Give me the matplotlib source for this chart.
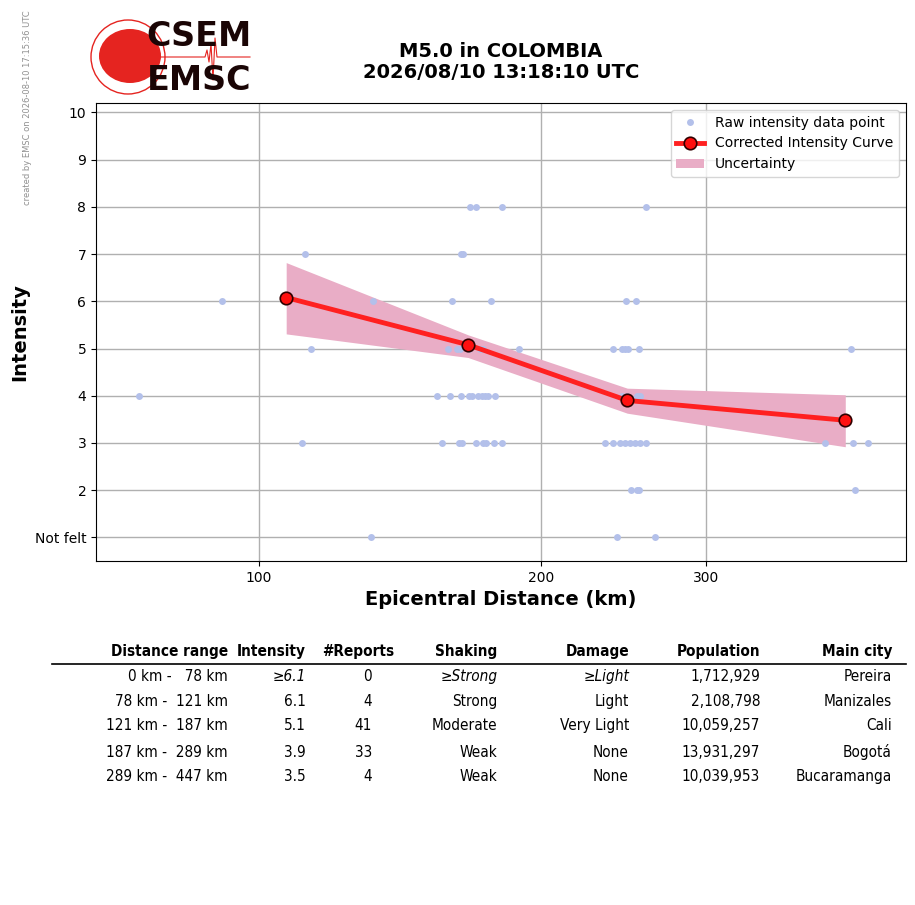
import numpy as np
import matplotlib
matplotlib.use("Agg")
from matplotlib import pyplot as plt
from matplotlib.patches import Circle, Ellipse
from matplotlib.lines import Line2D
from matplotlib.patches import Patch

# raw intensity reports (distance km per intensity level)
raw = {
    8: [168.0, 170.6, 181.8, 258.4],
    7: [112.0, 164.3, 165.2],
    6: [91.2, 132.4, 160.8, 176.6, 246.6, 252.7],
    5: [113.6, 159.2, 162.6, 163.9, 167.3, 172.1, 173.3, 189.6, 238.8, 243.8,
        245.8, 247.8, 254.0, 427.6],
    4: [74.5, 154.8, 159.9, 164.3, 167.3, 168.7, 171.4, 172.9, 174.3, 175.7,
        178.6, 243.8, 246.8, 253.0, 255.0],
    3: [111.0, 156.9, 163.5, 164.6, 170.3, 173.5, 174.7, 178.3, 181.6, 234.0,
        238.8, 242.8, 245.8, 248.9, 251.9, 255.0, 258.4, 401.9, 429.8, 445.9],
    2: [249.5, 253.0, 254.6, 431.9],
    1: [131.8, 241.2, 264.8],
}

curve_dist = [106.9, 167.1, 247.1, 422.1]
curve_int = [6.08, 5.08, 3.90, 3.48]
curve_upper = [6.82, 5.29, 4.16, 4.02]
curve_lower = [5.31, 4.81, 3.63, 2.92]

ytick_vals = [1, 2, 3, 4, 5, 6, 7, 8, 9, 10]
ytick_labels = ["Not felt", "2", "3", "4", "5", "6", "7", "8", "9", "10"]
xtick_vals = [100, 200, 300]

table_header = ["Distance range", "Intensity", "#Reports", "Shaking",
                "Damage", "Population", "Main city"]
dist_range = ["0 km -   78 km", "78 km -  121 km", "121 km -  187 km",
              "187 km -  289 km", "289 km -  447 km"]
intensity = ["\u22656.1", "6.1", "5.1", "3.9", "3.5"]
reports = ["0", "4", "41", "33", "4"]
shaking = ["\u2265Strong", "Strong", "Moderate", "Weak", "Weak"]
damage = ["\u2265Light", "Light", "Very Light", "None", "None"]
population = ["1,712,929", "2,108,798", "10,059,257", "13,931,297", "10,039,953"]
main_city = ["Pereira", "Manizales", "Cali", "Bogotá", "Bucaramanga"]

W, H = 915, 905
fig = plt.figure(figsize=(W / 100, H / 100), dpi=100)

# overlay in pixel coords for logo / table
bg = fig.add_axes([0, 0, 1, 1])
bg.set_xlim(0, W)
bg.set_ylim(H, 0)
bg.axis("off")

ax = fig.add_axes([96 / W, 1 - 561 / H, (906 - 96) / W, (561 - 103) / H])

raw_x = [d for lvl in raw for d in raw[lvl]]
raw_y = [lvl for lvl in raw for d in raw[lvl]]
ax.plot(raw_x, raw_y, "o", color="#b3c0ea", ms=5, mec="none", zorder=3,
        label="Raw intensity data point")
ax.fill_between(curve_dist, curve_lower, curve_upper, color="#e9adc6",
                lw=0, zorder=2, label="Uncertainty")
ax.plot(curve_dist, curve_int, "-o", color="#ff2020", lw=3.5, ms=9,
        mfc="#ff1010", mec="#300000", mew=1.2, zorder=4,
        label="Corrected Intensity Curve")

ax.set_xscale("log")
ax.set_xlim(67, 490)
ax.set_ylim(0.5, 10.2)
ax.set_xticks(xtick_vals)
ax.set_xticklabels([str(v) for v in xtick_vals])
ax.xaxis.set_minor_locator(matplotlib.ticker.NullLocator())
ax.set_yticks(ytick_vals)
ax.set_yticklabels(ytick_labels)
ax.tick_params(labelsize=10)
ax.grid(True, color="#b0b0b0", lw=1)
ax.set_axisbelow(True)
ax.set_xlabel("Epicentral Distance (km)", fontsize=14, fontweight="bold")
ax.set_ylabel("Intensity", fontsize=14, fontweight="bold")

handles = [
    Line2D([], [], ls="none", marker="o", color="#b3c0ea", ms=5, mec="none"),
    Line2D([], [], color="#ff2020", lw=3.5, marker="o", ms=9, mfc="#ff1010",
           mec="#300000", mew=1.2),
    Patch(color="#e9adc6", lw=0),
]
ax.legend(handles, ["Raw intensity data point", "Corrected Intensity Curve",
                    "Uncertainty"], loc="upper right", fontsize=10,
          borderaxespad=0.5, handletextpad=0.8)

fig.text(501 / W, 1 - 62 / H, "M5.0 in COLOMBIA\n2026/08/10 13:18:10 UTC",
         ha="center", va="center", fontsize=14, fontweight="bold",
         linespacing=1.1)
fig.text(28 / W, 1 - 108 / H, "created by EMSC on 2026-08-10 17:15:36 UTC",
         rotation=90, ha="center", va="center", fontsize=6, color="#909090")

# logo
bg.add_patch(Circle((128, 57), 37, fill=False, ec="#e52420", lw=1))
bg.add_patch(Ellipse((130, 56), 62, 54, color="#e52420", lw=0))
bg.plot([160, 205, 207, 209, 211, 213, 215, 217, 250],
        [57, 57, 50, 62, 44, 80, 38, 57, 57], color="#e52420", lw=0.8)
bg.text(199, 36, "CSEM", ha="center", va="center", fontsize=24,
        fontweight="bold", color="#1a0505")
bg.text(199, 81, "EMSC", ha="center", va="center", fontsize=24,
        fontweight="bold", color="#1a0505")

# summary table
col_x = [228, 306, 372, 497.5, 629, 760, 892]
head_x = [228, 306, 394, 497.5, 629, 760, 892]
row_y = [676, 701, 725, 752, 776]
tfont = dict(family="DejaVu Sans", stretch="condensed", fontsize=11)
for hx, h in zip(head_x, table_header):
    bg.text(hx, 651, h, ha="right", va="center", fontweight="bold", **tfont)
bg.plot([52, 906], [664, 664], color="black", lw=1.2)
cols = [dist_range, intensity, reports, shaking, damage, population, main_city]
for ci, (cx, col) in enumerate(zip(col_x, cols)):
    for ri, (ry, val) in enumerate(zip(row_y, col)):
        style = "italic" if (ri == 0 and ci in (1, 3, 4)) else "normal"
        bg.text(cx, ry, val, ha="right", va="center", style=style, **tfont)

fig.savefig("out.png", dpi=100)
